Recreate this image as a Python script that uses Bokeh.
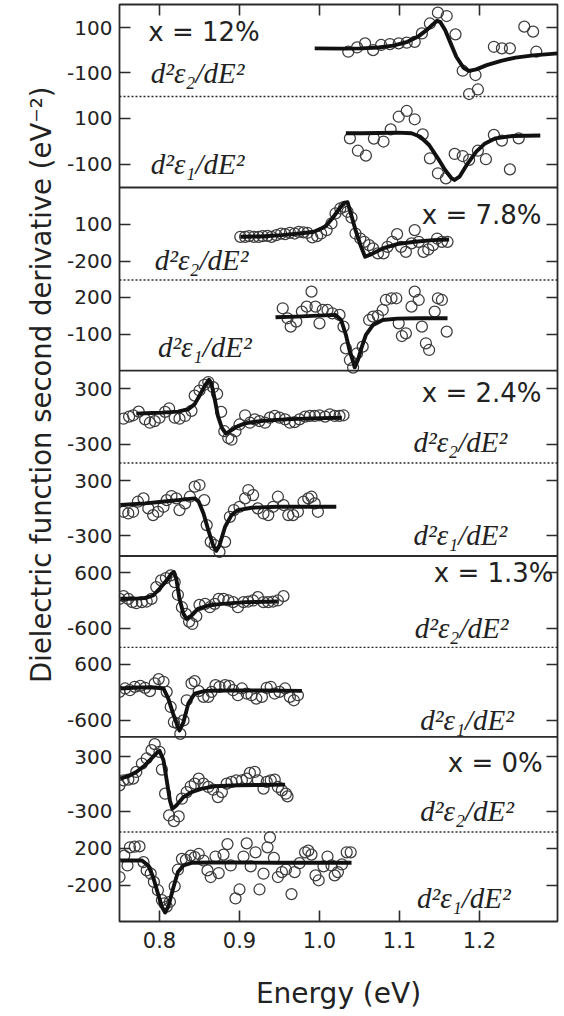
import numpy as np
from bokeh.plotting import figure
from bokeh.models import Range1d, LinearAxis, FixedTicker, Span, Label, PrintfTickFormatter, Title
from bokeh.embed import file_html
from bokeh.resources import INLINE

# ---------------- data ----------------
energy_ticks = [0.8, 0.9, 1.0, 1.1, 1.2]

# x = 12 %
x12_e2_fit_E = [0.994, 1.029, 1.052, 1.074, 1.092, 1.110, 1.124, 1.135, 1.142, 1.147, 1.151, 1.157, 1.164, 1.171, 1.180, 1.187, 1.196, 1.209, 1.227, 1.245, 1.267, 1.298]
x12_e2_fit_v = [8, 7, 8, 12, 20, 37, 62, 92, 115, 130, 124, 89, 30, -29, -78, -92, -85, -66, -47, -33, -23, -14]
x12_e2_pts_E = [1.036, 1.047, 1.057, 1.067, 1.077, 1.088, 1.099, 1.109, 1.119, 1.128, 1.138, 1.148, 1.159, 1.170, 1.179, 1.195, 1.187, 1.198, 1.218, 1.228, 1.238, 1.256, 1.267, 1.271]
x12_e2_pts_v = [-7, 12, 30, 0, 23, 27, 30, 33, 37, 74, 118, 166, 151, 70, -91, -110, -194, -174, 15, 8, 8, 104, 82, -7]
x12_e1_fit_E = [1.033, 1.052, 1.074, 1.097, 1.115, 1.126, 1.137, 1.148, 1.157, 1.165, 1.169, 1.175, 1.184, 1.196, 1.207, 1.220, 1.241, 1.276]
x12_e1_fit_v = [35, 35, 36, 38, 35, 20, -16, -74, -125, -161, -168, -154, -103, -45, -9, 13, 23, 25]
x12_e1_pts_E = [1.038, 1.048, 1.058, 1.068, 1.080, 1.089, 1.099, 1.109, 1.119, 1.129, 1.138, 1.148, 1.158, 1.169, 1.179, 1.187, 1.198, 1.208, 1.218, 1.228, 1.238, 1.249]
x12_e1_pts_v = [13, -41, -62, 12, -1, 52, 107, 132, 96, 30, -74, -139, -161, -55, -64, -81, -41, -78, 28, 3, -122, 13]

# x = 7.8 %
x78_e2_fit_E = [0.901, 0.926, 0.953, 0.975, 0.993, 1.007, 1.016, 1.025, 1.031, 1.035, 1.038, 1.045, 1.052, 1.057, 1.065, 1.079, 1.097, 1.119, 1.142, 1.162]
x78_e2_fit_v = [-1, 2, 13, 26, 40, 81, 149, 231, 277, 283, 217, 54, -83, -165, -143, -96, -61, -42, -28, -23]
x78_e2_pts_E = [0.901, 0.907, 0.912, 0.918, 0.924, 0.929, 0.935, 0.940, 0.946, 0.952, 0.957, 0.963, 0.969, 0.974, 0.980, 0.985, 0.991,
                0.997, 1.002, 1.009, 1.015, 1.020, 1.026, 1.031, 1.035, 1.040, 1.045, 1.051, 1.056, 1.062, 1.067, 1.073, 1.080, 1.085,
                1.091, 1.097, 1.102, 1.108, 1.115, 1.119, 1.124, 1.130, 1.136, 1.142, 1.147, 1.153, 1.160]
x78_e2_pts_v = [-1, -1, 5, -1, -1, 5, 7, -1, 13, 26, 21, 32, 26, 40, 35, 32, -6,
                5, 26, 54, 108, 190, 231, 245, 204, 157, 26, -15, -42, -69, -96, -137, -137, -83,
                -42, 21, -83, -124, -55, 54, -42, -124, -105, -69, -15, -42, -42]
x78_e1_fit_E = [0.945, 0.971, 0.998, 1.020, 1.027, 1.033, 1.038, 1.042, 1.044, 1.048, 1.053, 1.058, 1.067, 1.079, 1.097, 1.124, 1.160]
x78_e1_fit_v = [38, 43, 51, 57, 16, -105, -241, -322, -368, -308, -200, -105, -24, 16, 27, 30, 30]
x78_e1_pts_E = [0.954, 0.960, 0.964, 0.971, 0.978, 0.984, 0.990, 0.995, 1.000, 1.004, 1.010, 1.016, 1.025, 1.030, 1.033, 1.038, 1.042,
                1.047, 1.054, 1.062, 1.067, 1.073, 1.079, 1.083, 1.090, 1.096, 1.099, 1.103, 1.108, 1.115, 1.119, 1.124, 1.128,
                1.133, 1.137, 1.144, 1.148, 1.153, 1.159]
x78_e1_pts_v = [111, 30, -38, 3, 84, 124, 246, 124, -11, 97, 97, 70, 57, -38, -214, -308, -370,
                -254, -200, 16, 43, 49, 97, 178, 192, 192, -11, -114, -92, 124, 246, 178, -38,
                -173, -227, 84, 192, 178, -78]

# x = 2.4 %
x24_e2_fit_E = [0.771, 0.782, 0.803, 0.823, 0.836, 0.844, 0.850, 0.857, 0.862, 0.865, 0.869, 0.873, 0.878, 0.883, 0.890, 0.898, 0.907, 0.919, 0.936, 0.957, 0.990, 1.028]
x24_e2_fit_v = [31, 35, 42, 53, 79, 134, 226, 337, 399, 355, 190, 6, -123, -186, -149, -105, -75, -57, -42, -31, -20, -13]
x24_e2_pts_E = [0.755, 0.762, 0.767, 0.774, 0.782, 0.788, 0.794, 0.800, 0.807, 0.812, 0.819, 0.825, 0.832, 0.840, 0.844, 0.850,
                0.856, 0.861, 0.867, 0.872, 0.877, 0.881, 0.886, 0.890, 0.895, 0.900, 0.907, 0.913, 0.919, 0.925, 0.932, 0.938,
                0.944, 0.950, 0.957, 0.963, 0.969, 0.975, 0.982, 0.988, 0.994, 1.000, 1.007, 1.013, 1.019, 1.025, 1.030]
x24_e2_pts_v = [-24, -2, 13, 53, -31, -68, -50, -13, 50, 87, -13, -24, 6, 61, 226, 282,
                344, 374, 318, 245, 50, -160, -234, -252, -160, -87, 13, -68, -31, -50, -68, -13,
                6, -13, -31, -68, -61, -31, -2, 6, 6, 13, -2, 24, 6, 6, 13]
x24_e1_fit_E = [0.751, 0.782, 0.803, 0.823, 0.844, 0.849, 0.855, 0.861, 0.867, 0.871, 0.875, 0.882, 0.890, 0.898, 0.915, 0.948, 0.990, 1.021]
x24_e1_fit_v = [37, 55, 73, 91, 110, 73, -55, -238, -403, -465, -403, -201, -73, -18, 7, 18, 18, 18]
x24_e1_pts_E = [0.755, 0.761, 0.767, 0.773, 0.780, 0.786, 0.792, 0.798, 0.805, 0.809, 0.815, 0.821, 0.825, 0.832, 0.838,
                0.844, 0.850, 0.856, 0.859, 0.864, 0.869, 0.875, 0.882, 0.888, 0.893, 0.900, 0.907, 0.911, 0.917, 0.923,
                0.930, 0.936, 0.942, 0.948, 0.955, 0.961, 0.967, 0.973, 0.980, 0.986, 0.990, 0.994, 0.998]
x24_e1_pts_v = [-37, -55, -37, 73, 110, 0, -73, -37, 18, 91, 135, 110, -18, 55, 128,
                238, 256, 91, -183, -366, -403, -476, -366, -92, -18, 18, 110, 201, 146, 0,
                -55, -73, 18, 128, 37, -73, -73, -37, 73, 110, 128, 55, -37]

# x = 1.3 %
x13_e2_fit_E = [0.751, 0.765, 0.782, 0.792, 0.800, 0.809, 0.815, 0.818, 0.821, 0.825, 0.830, 0.834, 0.840, 0.848, 0.861, 0.878, 0.907, 0.948]
x13_e2_fit_v = [36, 36, 51, 108, 253, 434, 578, 614, 470, 36, -289, -398, -325, -181, -108, -72, -36, -22]
x13_e2_pts_E = [0.750, 0.755, 0.761, 0.766, 0.771, 0.778, 0.784, 0.790, 0.796, 0.802, 0.808, 0.814, 0.819, 0.823, 0.828,
                0.833, 0.837, 0.841, 0.846, 0.850, 0.857, 0.863, 0.869, 0.874, 0.880, 0.886, 0.892, 0.898, 0.905, 0.911,
                0.917, 0.923, 0.930, 0.936, 0.942, 0.948, 0.955]
x13_e2_pts_v = [36, 94, 36, -36, -58, -36, -22, 36, 289, 434, 484, 542, 398, 123, -145,
                -289, -455, -506, -340, -94, -72, -145, -72, 36, 36, 0, -36, -145, -36, -22,
                0, 72, -36, -36, -22, 0, 94]
x13_e1_fit_E = [0.751, 0.773, 0.794, 0.805, 0.811, 0.817, 0.823, 0.825, 0.830, 0.836, 0.844, 0.857, 0.886, 0.928, 0.978]
x13_e1_fit_v = [80, 101, 101, 80, -137, -463, -752, -824, -643, -246, -29, 29, 36, 36, 29]
x13_e1_pts_E = [0.750, 0.757, 0.763, 0.769, 0.776, 0.782, 0.788, 0.794, 0.799, 0.805, 0.809, 0.814, 0.818, 0.823,
                0.826, 0.830, 0.834, 0.840, 0.844, 0.849, 0.855, 0.861, 0.865, 0.870, 0.875, 0.882, 0.887, 0.892,
                0.898, 0.903, 0.909, 0.915, 0.921, 0.928, 0.934, 0.939, 0.944, 0.950, 0.957, 0.963, 0.968, 0.973]
x13_e1_pts_v = [7, 80, 43, 116, 137, 94, 22, 188, 282, 224, 7, -318, -643, -680,
                -896, -607, -174, 188, 239, 22, -101, -101, 7, 152, 116, 152, 137, 43,
                -65, 80, -29, -65, -137, -101, 94, 116, -29, 7, 80, -101, -174, -65]

# x = 0 %
x00_e2_fit_E = [0.751, 0.761, 0.771, 0.782, 0.790, 0.798, 0.800, 0.805, 0.809, 0.813, 0.816, 0.821, 0.830, 0.840, 0.853, 0.869, 0.898, 0.928, 0.957]
x00_e2_fit_v = [61, 87, 134, 208, 282, 355, 366, 263, 42, -179, -271, -234, -142, -87, -50, -24, -13, -9, -6]
x00_e2_pts_E = [0.750, 0.755, 0.761, 0.767, 0.771, 0.778, 0.784, 0.790, 0.794, 0.800, 0.803, 0.807, 0.812, 0.818,
                0.824, 0.828, 0.834, 0.839, 0.844, 0.849, 0.855, 0.861, 0.867, 0.873, 0.878, 0.884, 0.890, 0.896,
                0.903, 0.909, 0.913, 0.919, 0.923, 0.930, 0.934, 0.939, 0.944, 0.948, 0.953, 0.958, 0.960]
x00_e2_pts_v = [-13, 42, 50, 61, 134, 226, 282, 374, 440, 355, 160, -105, -344, -407,
                -355, -160, -87, -24, 6, 61, 6, -31, -61, -142, -87, 6, 24, 42,
                42, 61, 123, 134, 42, -50, 24, 42, 50, -31, -68, -105, -134]
x00_e1_fit_E = [0.751, 0.778, 0.786, 0.792, 0.798, 0.803, 0.807, 0.811, 0.817, 0.823, 0.830, 0.840, 0.865, 0.907, 0.948, 1.040]
x00_e1_fit_v = [68, 68, 14, -111, -289, -432, -496, -432, -236, -57, 14, 43, 46, 46, 43, 43]
x00_e1_pts_E = [0.750, 0.756, 0.760, 0.763, 0.769, 0.775, 0.780, 0.784, 0.789, 0.793, 0.798, 0.803, 0.806, 0.809, 0.813,
                0.819, 0.823, 0.828, 0.833, 0.839, 0.844, 0.849, 0.855, 0.860, 0.864, 0.870, 0.874, 0.880, 0.885, 0.889,
                0.895, 0.900, 0.905, 0.909, 0.914, 0.920, 0.925, 0.930, 0.935, 0.938, 0.943, 0.948, 0.953, 0.958, 0.965,
                0.969, 0.975, 0.982, 0.986, 0.990, 0.995, 0.999, 1.005, 1.010, 1.015, 1.019, 1.023, 1.028, 1.034, 1.039]
x00_e1_pts_v = [-111, 121, 14, 211, 218, 221, 50, -39, -75, -164, -254, -361, -396, -432, -379,
                -211, -32, 86, 75, 121, 104, 139, 68, -39, -111, 111, -68, 132, 246, 14,
                -343, -246, 111, 254, 4, 157, -246, -75, 211, 318, 96, -111, -57, -29, -296,
                -57, 39, 157, 175, 132, -93, -146, 4, 111, 14, -93, -57, 25, 157, 157]

# sub-panel value limits (bottom, top) and left tick values, top to bottom
sub_limits = [(-205, 202), (-201, 195), (-355, 403), (-395, 340), (-505, 497),
              (-521, 497), (-1010, 960), (-960, 966), (-526, 520), (-593, 377)]
sub_ticks = [[100, -100], [100, -100], [100, -200], [200, -100], [300, -300],
             [300, -300], [600, -600], [600, -600], [300, -300], [200, -200]]
sub_series = [
    (x12_e2_fit_E, x12_e2_fit_v, x12_e2_pts_E, x12_e2_pts_v),
    (x12_e1_fit_E, x12_e1_fit_v, x12_e1_pts_E, x12_e1_pts_v),
    (x78_e2_fit_E, x78_e2_fit_v, x78_e2_pts_E, x78_e2_pts_v),
    (x78_e1_fit_E, x78_e1_fit_v, x78_e1_pts_E, x78_e1_pts_v),
    (x24_e2_fit_E, x24_e2_fit_v, x24_e2_pts_E, x24_e2_pts_v),
    (x24_e1_fit_E, x24_e1_fit_v, x24_e1_pts_E, x24_e1_pts_v),
    (x13_e2_fit_E, x13_e2_fit_v, x13_e2_pts_E, x13_e2_pts_v),
    (x13_e1_fit_E, x13_e1_fit_v, x13_e1_pts_E, x13_e1_pts_v),
    (x00_e2_fit_E, x00_e2_fit_v, x00_e2_pts_E, x00_e2_pts_v),
    (x00_e1_fit_E, x00_e1_fit_v, x00_e1_pts_E, x00_e1_pts_v),
]
composition_labels = ["x = 12%", "x = 7.8%", "x = 2.4%", "x = 1.3%", "x = 0%"]
deriv_labels = ["d\u00b2\u03b5\u2082/dE\u00b2", "d\u00b2\u03b5\u2081/dE\u00b2"]

# ---------------- layout (vertical placement of the sub-panels) ----------------
EDGES = [4.5, 96.5, 187.5, 280.0, 370.7, 463.0, 556.0, 647.3, 736.8, 832.0, 921.5]
F_TOP, F_BOT = EDGES[0], EDGES[-1]

INK = "#2b2b2b"
SANS = "DejaVu Sans"

p = figure(width=564, height=1016, output_backend="svg", toolbar_location=None,
           x_range=Range1d(0.75, 1.2975), y_range=Range1d(F_BOT, F_TOP),
           min_border_left=119, min_border_right=7, min_border_top=4, min_border_bottom=95)
p.grid.visible = False
p.outline_line_color = INK
p.outline_line_width = 1.8
p.background_fill_color = "white"
p.border_fill_color = "white"

extra = {}
tick_pos = []
tick_lab = {}
for i, ((lo, hi), ticks) in enumerate(zip(sub_limits, sub_ticks)):
    top, bot = EDGES[i], EDGES[i + 1]
    k = (hi - lo) / (bot - top)
    extra[f"s{i}"] = Range1d(start=lo - (F_BOT - bot) * k, end=hi + (top - F_TOP) * k)
    for t in ticks:
        pos = round(top + (hi - t) / k, 3)
        tick_pos.append(pos)
        tick_lab[pos] = str(t)
p.extra_y_ranges = extra

def style_axis(ax):
    ax.axis_line_color = None
    ax.major_tick_in = 11
    ax.major_tick_out = 0
    ax.minor_tick_in = 0
    ax.minor_tick_out = 0
    ax.major_tick_line_color = INK
    ax.major_tick_line_width = 1.6
    ax.major_label_text_color = "#222222"
    ax.major_label_text_font = SANS

# left axis
yl = p.yaxis[0]
yl.ticker = FixedTicker(ticks=tick_pos)
yl.major_label_overrides = tick_lab
style_axis(yl)
yl.major_label_text_font_size = "20px"
yl.major_label_standoff = 7

# right axis (ticks only)
yr = LinearAxis(ticker=FixedTicker(ticks=tick_pos))
style_axis(yr)
yr.major_label_overrides = {t: "" for t in tick_pos}
yr.major_label_text_font_size = "0px"
yr.major_label_standoff = 0
p.add_layout(yr, "right")

# bottom axis
xb = p.xaxis[0]
xb.ticker = FixedTicker(ticks=energy_ticks)
xb.formatter = PrintfTickFormatter(format="%.1f")
style_axis(xb)
xb.major_label_text_font_size = "21px"
xb.major_label_text_line_height = 1.0
xb.major_label_standoff = 10
xb.axis_label = "Energy (eV)"
xb.axis_label_text_font = SANS
xb.axis_label_text_font_size = "28px"
xb.axis_label_text_font_style = "normal"
xb.axis_label_text_color = "#222222"
xb.axis_label_text_line_height = 1.0
xb.axis_label_standoff = 26

# top axis (ticks only)
xt = LinearAxis(ticker=FixedTicker(ticks=energy_ticks))
style_axis(xt)
xt.major_label_overrides = {t: "" for t in energy_ticks}
xt.major_label_text_font_size = "0px"
xt.major_label_standoff = 0
p.add_layout(xt, "above")

# y axis title
p.add_layout(Title(text="Dielectric function second derivative (eV\u207b\u00b2)",
                   align="right", offset=82, standoff=16, text_font=SANS, text_font_size="27.5px",
                   text_font_style="normal", text_color="#222222"), "left")

# separators
for j in range(1, 10):
    solid = (j % 2 == 0)
    p.add_layout(Span(location=EDGES[j], dimension="width", line_color=INK,
                      line_width=1.8 if solid else 1.3,
                      line_dash="solid" if solid else "2 2"))

# data
for i, (fE, fv, pE, pv) in enumerate(sub_series):
    name = f"s{i}"
    p.scatter(pE, pv, y_range_name=name, marker="circle", size=11,
              fill_color=None, line_color="#3c3c3c", line_width=1.25)
    p.line(fE, fv, y_range_name=name, line_color="#111111", line_width=3.9,
           line_join="round")

# composition labels: (x, y, align)
comp_pos = [(0.786, 81, "left"), (1.2775, 176, "right"), (1.2775, 258, "right"),
            (1.2925, 587, "right"), (1.279, 231, "right")]
for j, (txt, (lx, ly, al)) in enumerate(zip(composition_labels, comp_pos)):
    p.add_layout(Label(x=lx, y=ly, y_range_name=f"s{2*j}", text=txt, text_align=al,
                       text_baseline="middle", text_font=SANS, text_font_size="26px",
                       text_color="#222222"))

# derivative labels
deriv_pos = [(0.789, -100), (0.789, -100), (0.794, -192), (0.798, -200),
             (1.1175, -272), (1.1175, -290), (1.119, -600), (1.126, -600),
             (1.126, -300), (1.122, -342)]
for i, (lx, ly) in enumerate(deriv_pos):
    p.add_layout(Label(x=lx, y=ly, y_range_name=f"s{i}", text=deriv_labels[i % 2],
                       text_align="left", text_baseline="middle",
                       text_font="Liberation Serif", text_font_style="italic",
                       text_font_size="29px", text_color="#222222"))

open("out.html", "w").write(file_html(p, INLINE))
